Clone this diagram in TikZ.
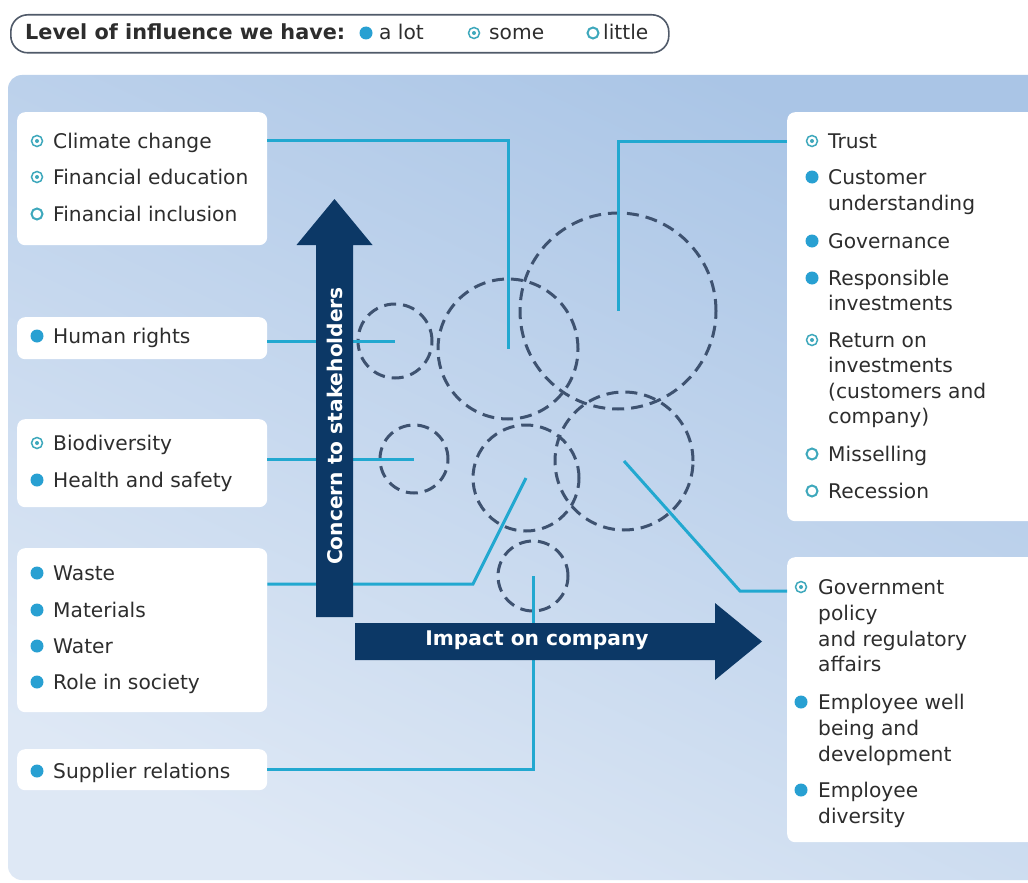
\documentclass[tikz,border=0pt]{standalone}
\usepackage{fontspec}
\setmainfont{DejaVu Sans}
\usetikzlibrary{calc}
\definecolor{navy}{RGB}{12,56,102}
\definecolor{cyanl}{RGB}{34,168,208}
\definecolor{slate}{RGB}{62,82,112}
\definecolor{bulc}{RGB}{40,160,210}
\definecolor{ringc}{RGB}{62,168,188}
\definecolor{txt}{RGB}{45,45,45}
\definecolor{pantop}{RGB}{170,197,230}
\definecolor{panbot}{RGB}{222,232,245}
\definecolor{legbd}{RGB}{80,90,105}
\newcommand{\bLot}[1]{\fill[bulc] (#1) circle (6.5pt);}
\newcommand{\bSome}[1]{\draw[ringc,line width=1.5pt] (#1) circle (5.5pt); \fill[ringc] (#1) circle (2pt);}
\newcommand{\bLittle}[1]{\draw[ringc,line width=2pt] (#1) circle (5.5pt);}
\begin{document}
\begin{tikzpicture}[x=1pt,y=-1pt,
  box/.style={fill=white, rounded corners=8pt, inner sep=0pt, draw=none, anchor=north west},
  itm/.style={anchor=base west, inner sep=0pt, text=txt, font=\fontsize{20.2}{24}\selectfont},
  legtxt/.style={anchor=base west, inner sep=0pt, text=txt, font=\fontsize{20.2}{24}\selectfont},
  conn/.style={draw=cyanl, line width=3pt},
  dcirc/.style={circle, draw=slate, line width=3pt, dash pattern=on 12pt off 7pt, inner sep=0pt},
  arrtxt/.style={text=white, inner sep=0pt, font=\bfseries\fontsize{20.2}{24}\selectfont}
]
\useasboundingbox (0,0) rectangle (1028,883);
\fill[white] (0,0) rectangle (1028,883);
% panel
\shade[top color=pantop, bottom color=panbot, shading angle=-25, rounded corners=14pt]
  (8,75) rectangle (1060,880);

% legend
\node[draw=legbd, line width=1.6pt, fill=white, rounded corners=17pt, minimum width=658pt, minimum height=38pt, inner sep=0pt, anchor=north west] (leg) at (10,14) {};
\node[legtxt, font=\bfseries\fontsize{20.8}{24}\selectfont] (legt) at (25,40) {Level of influence we have:};
\bLot{366,33}
\node[legtxt] (lega) at (379,40) {a lot};
\bSome{474,33}
\node[legtxt] (legs) at (489,40) {some};
\bLittle{593,33}
\node[legtxt] (legl) at (603,40) {little};

% boxes
\node[box, minimum width=250pt, minimum height=133pt] (lb1) at (17,112) {};
\node[box, minimum width=250pt, minimum height=42pt] (lb2) at (17,317) {};
\node[box, minimum width=250pt, minimum height=88pt] (lb3) at (17,419) {};
\node[box, minimum width=250pt, minimum height=164pt] (lb4) at (17,548) {};
\node[box, minimum width=250pt, minimum height=41pt] (lb5) at (17,749) {};
\node[box, minimum width=260pt, minimum height=409pt] (rb1) at (787,112) {};
\node[box, minimum width=260pt, minimum height=285pt] (rb2) at (787,557) {};

% circles
\node[dcirc, minimum size=74pt] (c1) at (395,341) {};
\node[dcirc, minimum size=68pt] (c2) at (414,459) {};
\node[dcirc, minimum size=140pt] (c3) at (508,349) {};
\node[dcirc, minimum size=196pt] (c4) at (618,311) {};
\node[dcirc, minimum size=106pt] (c5) at (526,478) {};
\node[dcirc, minimum size=138pt] (c6) at (624,461) {};
\node[dcirc, minimum size=70pt] (c7) at (533,576) {};

% connectors
\coordinate (wb) at (473,584);
\coordinate (gb) at (740,591);
\draw[conn] ($(lb1.north east)+(0,28)$) -| (c3.center);
\draw[conn] (lb2.east |- c1.center) -- (c1.center);
\draw[conn] (lb3.east |- c2.center) -- (c2.center);
\draw[conn] ($(lb4.north east)+(0,36)$) -- (wb) -- (c5.center);
\draw[conn] (lb5.east) -| (c7.center);
\draw[conn] ($(rb1.north west)+(0,29)$) -| (c4.center);
\draw[conn] ($(rb2.north west)+(0,34)$) -- (gb) -- (c6.center);

% arrows
\fill[navy] (316,617) -- (316,245) -- (296.5,245) -- (334.5,199) -- (372.5,245) -- (353,245) -- (353,617) -- cycle;
\fill[navy] (355,623) -- (715,623) -- (715,603) -- (762,641.5) -- (715,680) -- (715,660) -- (355,660) -- cycle;
\node[arrtxt, rotate=90, anchor=base] (vlab) at (342,426) {Concern to stakeholders};
\node[arrtxt, anchor=base] (hlab) at (537,645) {Impact on company};

% left items
\bSome{37,141}   \node[itm] (t1) at (53,148) {Climate change};
\bSome{37,177}   \node[itm] (t2) at (53,184) {Financial education};
\bLittle{37,214} \node[itm] (t3) at (53,221) {Financial inclusion};
\bLot{37,336}    \node[itm] (t4) at (53,343) {Human rights};
\bSome{37,443}   \node[itm] (t5) at (53,450) {Biodiversity};
\bLot{37,480}    \node[itm] (t6) at (53,487) {Health and safety};
\bLot{37,573}    \node[itm] (t7) at (53,580) {Waste};
\bLot{37,610}    \node[itm] (t8) at (53,617) {Materials};
\bLot{37,646}    \node[itm] (t9) at (53,653) {Water};
\bLot{37,682}    \node[itm] (t10) at (53,689) {Role in society};
\bLot{37,771}    \node[itm] (t11) at (53,778) {Supplier relations};

% right items box 1
\bSome{812,141}  \node[itm] (r1) at (828,148) {Trust};
\bLot{812,177}   \node[itm] (r2) at (828,184) {Customer};
                 \node[itm] (r2b) at (828,210) {understanding};
\bLot{812,241}   \node[itm] (r3) at (828,248) {Governance};
\bLot{812,278}   \node[itm] (r4) at (828,285) {Responsible};
                 \node[itm] (r4b) at (828,310) {investments};
\bSome{812,340}  \node[itm] (r5) at (828,347) {Return on};
                 \node[itm] (r5b) at (828,372) {investments};
                 \node[itm] (r5c) at (828,398) {(customers and};
                 \node[itm] (r5d) at (828,423) {company)};
\bLittle{812,454} \node[itm] (r6) at (828,461) {Misselling};
\bLittle{812,491} \node[itm] (r7) at (828,498) {Recession};

% right items box 2
\bSome{801,587}  \node[itm] (s1) at (818,594) {Government};
                 \node[itm] (s1b) at (818,620) {policy};
                 \node[itm] (s1c) at (818,646) {and regulatory};
                 \node[itm] (s1d) at (818,671) {affairs};
\bLot{801,702}   \node[itm] (s2) at (818,709) {Employee well};
                 \node[itm] (s2b) at (818,735) {being and};
                 \node[itm] (s2c) at (818,761) {development};
\bLot{801,790}   \node[itm] (s3) at (818,797) {Employee};
                 \node[itm] (s3b) at (818,823) {diversity};
\end{tikzpicture}
\end{document}
